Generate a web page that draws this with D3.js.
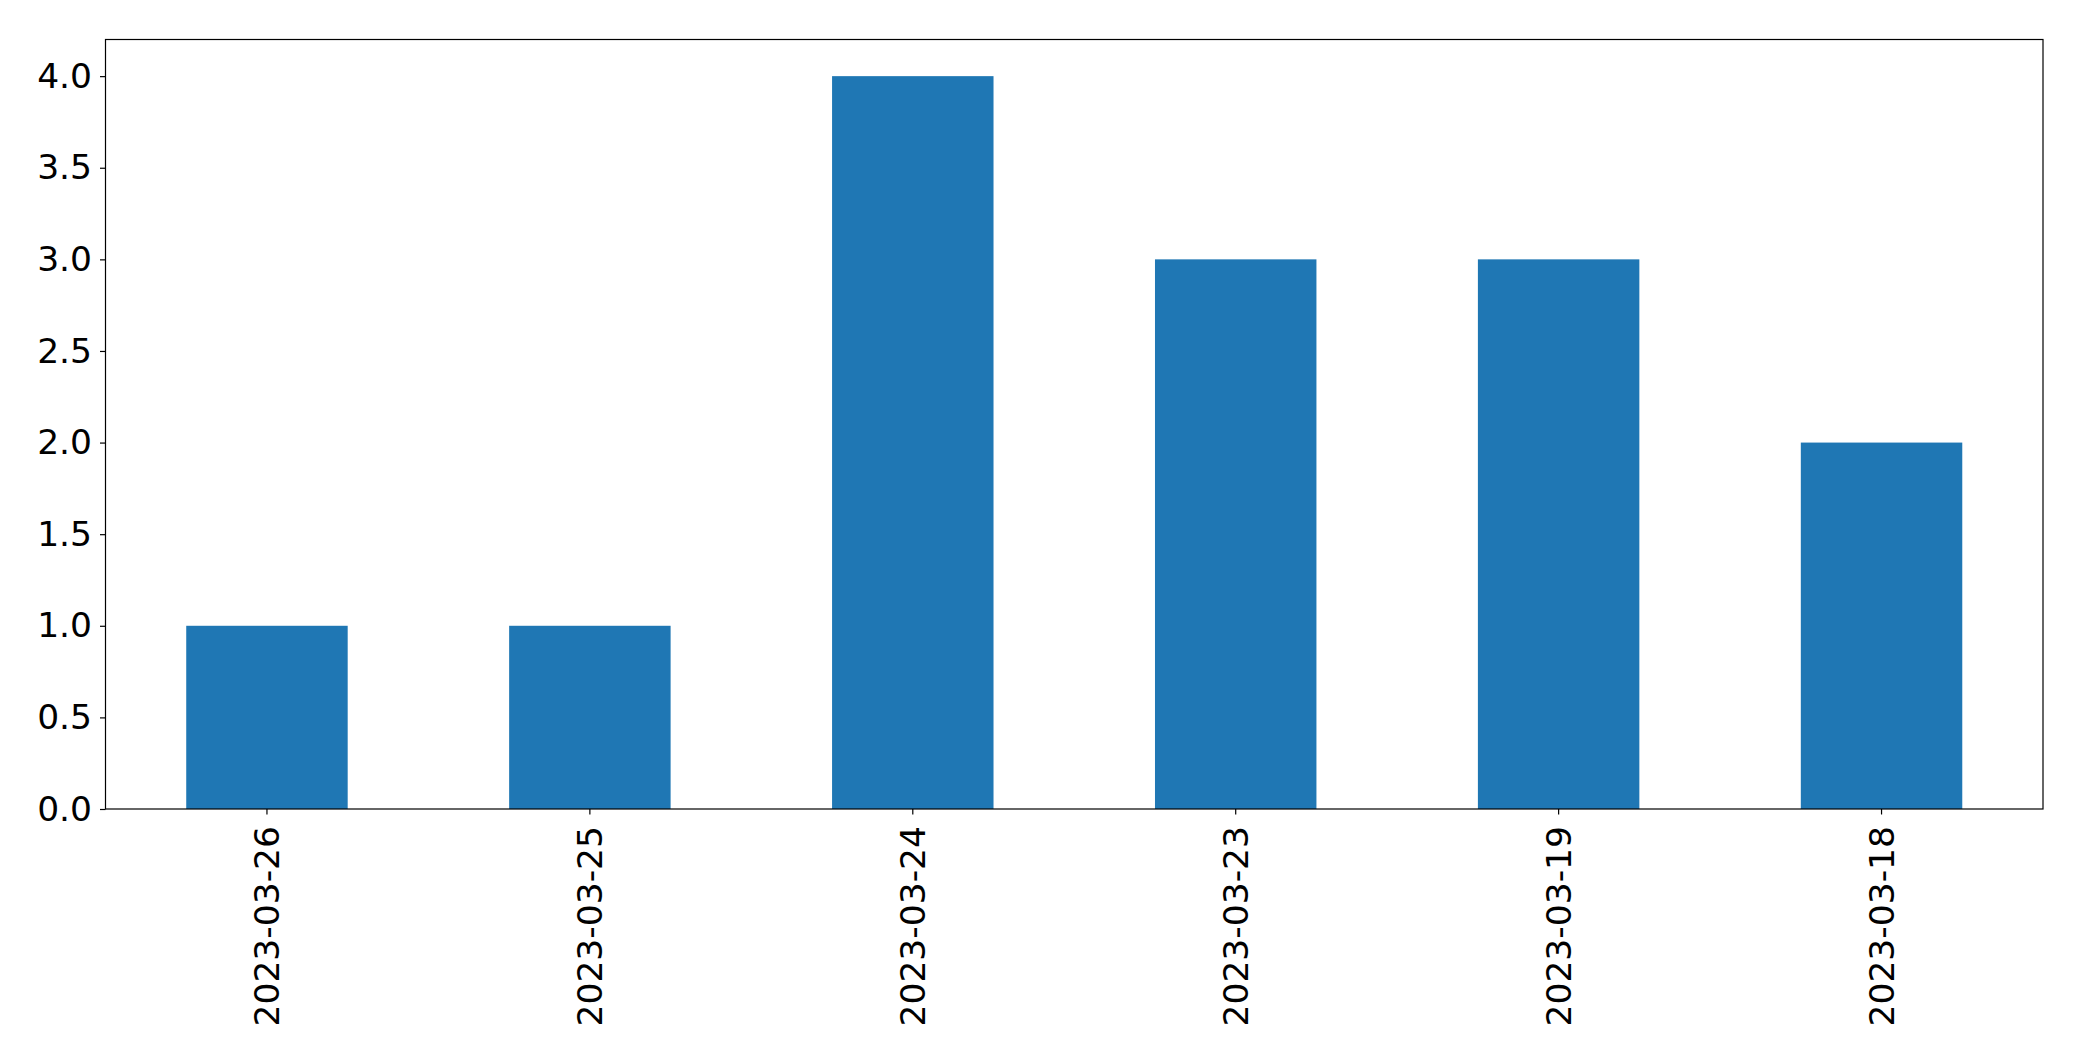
<!DOCTYPE html>
<html>
<head>
<meta charset="utf-8">
<script src="https://cdn.jsdelivr.net/npm/d3@7"></script>
<style>
html,body{margin:0;padding:0;background:#fff;}
svg{display:block;}
</style>
</head>
<body>
<svg id="chart" width="2082" height="1061"></svg>
<script>
const categories = ["2023-03-26","2023-03-25","2023-03-24","2023-03-23","2023-03-19","2023-03-18"];
const values = [1, 1, 4, 3, 3, 2];
const yTicks = [0, 0.5, 1, 1.5, 2, 2.5, 3, 3.5, 4];

const W = 2082, H = 1061;
const m = {left: 105.5, right: 2043, top: 39.5, bottom: 809};
const svg = d3.select("#chart");

const x = d3.scaleBand().domain(categories).range([m.left, m.right]).paddingInner(0.5).paddingOuter(0.25);
const y = d3.scaleLinear().domain([0, 4.2]).range([m.bottom, m.top]);

svg.append("g").selectAll("rect").data(values).join("rect")
  .attr("x", (d,i) => x(categories[i]))
  .attr("width", x.bandwidth())
  .attr("y", d => y(d))
  .attr("height", d => y(0) - y(d))
  .attr("fill", "#1f77b4");

const font = "'DejaVu Sans', sans-serif";
const fs = 34.5;

const yAxis = svg.append("g").attr("transform", `translate(${m.left},0)`)
  .call(d3.axisLeft(y).tickValues(yTicks).tickFormat(d3.format(".1f")).tickSize(5.5).tickPadding(8));
yAxis.select(".domain").remove();
yAxis.selectAll("text").attr("font-family", font).attr("font-size", fs).attr("fill", "#000");
yAxis.selectAll("line").attr("stroke", "#000").attr("stroke-width", 1.2);

const xAxis = svg.append("g").attr("transform", `translate(0,${m.bottom})`)
  .call(d3.axisBottom(x).tickSize(5.5).tickPadding(0));
xAxis.select(".domain").remove();
xAxis.selectAll("line").attr("stroke", "#000").attr("stroke-width", 1.2);
xAxis.selectAll("text")
  .attr("font-family", font).attr("font-size", fs).attr("fill", "#000")
  .attr("text-anchor", "end")
  .attr("transform", "translate(0,17) rotate(-90)")
  .attr("x", 0).attr("y", 0).attr("dy", "0.35em");

svg.append("rect")
  .attr("x", m.left).attr("y", m.top)
  .attr("width", m.right - m.left).attr("height", m.bottom - m.top)
  .attr("fill", "none").attr("stroke", "#000").attr("stroke-width", 1.2);
</script>
</body>
</html>
